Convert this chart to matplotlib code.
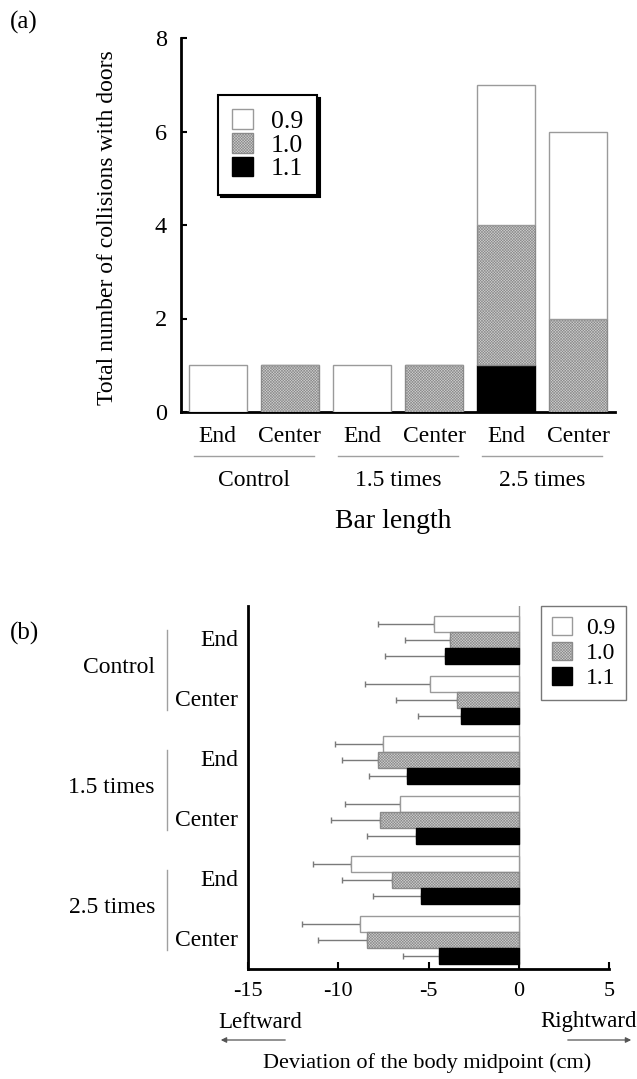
import numpy as np
import matplotlib
matplotlib.use("Agg")
import matplotlib.pyplot as plt
from matplotlib.patches import Patch
import matplotlib.transforms as mtransforms

plt.rcParams['font.family'] = ['Liberation Serif', 'DejaVu Serif']
plt.rcParams['hatch.linewidth'] = 0.4

# ---------------- data ----------------
conditions = ["Control", "1.5 times", "2.5 times"]
positions = ["End", "Center"]
series = ["0.9", "1.0", "1.1"]

# Panel (a): number of collisions (stacked: 1.1 bottom, 1.0, 0.9 top)
a_09 = [1, 0, 1, 0, 3, 4]
a_10 = [0, 1, 0, 1, 3, 2]
a_11 = [0, 0, 0, 0, 1, 0]

# Panel (b): deviation of body midpoint (cm), mean and SD
b_09 = [-4.7, -4.9, -7.5, -6.6, -9.3, -8.8]
b_09_err = [3.1, 3.6, 2.7, 3.0, 2.1, 3.2]
b_10 = [-3.8, -3.4, -7.8, -7.7, -7.0, -8.4]
b_10_err = [2.5, 3.4, 2.0, 2.7, 2.8, 2.7]
b_11 = [-4.1, -3.2, -6.2, -5.7, -5.4, -4.4]
b_11_err = [3.3, 2.4, 2.1, 2.7, 2.7, 2.0]

# ---------------- styles ----------------
W, H = 637, 1079
DPI = 100
fig = plt.figure(figsize=(W / DPI, H / DPI), dpi=DPI)

EDGE = '#9a9a9a'
HATCH_FACE = '#cfcfcf'
styles = {
    "0.9": dict(facecolor='white', edgecolor=EDGE, hatch=None),
    "1.0": dict(facecolor=HATCH_FACE, edgecolor='#8a8a8a', hatch='xxxxxxxxxxxx'),
    "1.1": dict(facecolor='black', edgecolor='black', hatch=None),
}
FS = 17


def fx(px):
    return px / W


def fy(py):
    return 1 - py / H


# ================= Panel (a) =================
axa = fig.add_axes([fx(181), fy(412), fx(615) - fx(181), fy(38) - fy(412)])
x = np.arange(6)
bw = 0.8
bot = np.zeros(6)
for key, vals in (("1.1", a_11), ("1.0", a_10), ("0.9", a_09)):
    st = styles[key]
    v = np.array(vals, dtype=float)
    axa.bar(x, v, bw, bottom=bot, facecolor=st['facecolor'], edgecolor=st['edgecolor'],
            hatch=st['hatch'], linewidth=1.0, zorder=3)
    bot = bot + v

axa.set_xlim(-0.51, 5.51)
axa.set_ylim(0, 8)
axa.set_yticks([0, 2, 4, 6, 8])
axa.set_xticks([])
for s in ('top', 'right'):
    axa.spines[s].set_visible(False)
for s in ('left', 'bottom'):
    axa.spines[s].set_linewidth(2.0)
axa.tick_params(axis='y', direction='in', length=4, width=1.5, pad=10, labelsize=17.5)

trans_a = mtransforms.blended_transform_factory(axa.transData, axa.transAxes)
ah = 412 - 38
for i in range(6):
    axa.text(x[i], -25 / ah, positions[i % 2], transform=trans_a, ha='center', va='center',
             fontsize=FS)
for g, cond in enumerate(conditions):
    x0 = x[2 * g] - 0.33
    x1 = x[2 * g + 1] + 0.33
    axa.plot([x0, x1], [-44 / ah, -44 / ah], transform=trans_a, color='#a0a0a0',
             lw=1.0, clip_on=False)
    axa.text((x[2 * g] + x[2 * g + 1]) / 2, -68 / ah, cond, transform=trans_a,
             ha='center', va='center', fontsize=FS)
axa.text(0.49, -110 / ah, "Bar length", transform=axa.transAxes, ha='center', va='center',
         fontsize=20)
fig.text(fx(108), fy(228), "Total number of collisions with doors", rotation=90,
         ha='center', va='center', fontsize=17)

handles = [Patch(facecolor=styles[k]['facecolor'], edgecolor=styles[k]['edgecolor'],
                 hatch=styles[k]['hatch'], linewidth=1.0) for k in series]
lega = axa.legend(handles, series, loc='upper left', bbox_to_anchor=((218 - 181) / 434, (412 - 95) / 374),
                  frameon=True, fancybox=False, shadow={'color': 'black', 'alpha': 1.0},
                  fontsize=18.5, handlelength=0.8, handleheight=0.8, labelspacing=0.0,
                  handletextpad=0.7, borderpad=0.55, borderaxespad=0)
lega.get_frame().set_edgecolor('black')
lega.get_frame().set_linewidth(1.5)

fig.text(fx(10), fy(22), "(a)", ha='left', va='center', fontsize=18)

# ================= Panel (b) =================
axb = fig.add_axes([fx(248), fy(969), fx(609) - fx(248), fy(606) - fy(969)])
yg = np.arange(6)
bh = 0.267
offs = {"0.9": -bh, "1.0": 0.0, "1.1": bh}
errs = {"0.9": b_09_err, "1.0": b_10_err, "1.1": b_11_err}
vals_b = {"0.9": b_09, "1.0": b_10, "1.1": b_11}
for key in series:
    st = styles[key]
    yy = yg + offs[key]
    v = np.array(vals_b[key])
    e = np.array(errs[key])
    axb.barh(yy, v, bh, facecolor=st['facecolor'], edgecolor=st['edgecolor'],
             hatch=st['hatch'], linewidth=1.0, zorder=3)
    axb.errorbar(v, yy, xerr=[e, np.zeros_like(e)], fmt='none', ecolor='#7a7a7a',
                 elinewidth=1.0, capsize=2.5, capthick=1.0, zorder=2)
axb.axvline(0, color='#9a9a9a', lw=1.0, zorder=1)
axb.set_xlim(-15, 5)
axb.set_ylim(5.483, -0.567)
axb.set_xticks([-15, -10, -5, 0, 5])
axb.set_xticklabels(['-15', '-10', '-5', '0', '5'])
axb.set_yticks([])
for s in ('top', 'right'):
    axb.spines[s].set_visible(False)
for s in ('left', 'bottom'):
    axb.spines[s].set_linewidth(2.0)
axb.tick_params(axis='x', direction='in', length=5, width=1.5, pad=9, labelsize=16)

bw_px = 609 - 248
bh_px = 969 - 606
trans_b = mtransforms.blended_transform_factory(axb.transAxes, axb.transData)
for i in range(6):
    axb.text((238 - 248) / bw_px, yg[i], positions[i % 2], transform=trans_b, ha='right',
             va='center', fontsize=FS)
for g, cond in enumerate(conditions):
    yc = (yg[2 * g] + yg[2 * g + 1]) / 2
    axb.plot([(167 - 248) / bw_px] * 2, [yc - 0.67, yc + 0.67], transform=trans_b,
             color='#a0a0a0', lw=1.0, clip_on=False)
    axb.text((155 - 248) / bw_px, yc - 0.05, cond, transform=trans_b, ha='right', va='center',
             fontsize=FS)

axb.text((218 - 248) / bw_px, (969 - 1022) / bh_px, "Leftward", transform=axb.transAxes,
         ha='left', va='center', fontsize=16.5)
axb.text((637 - 248) / bw_px, (969 - 1022) / bh_px, "Rightward", transform=axb.transAxes,
         ha='right', va='center', fontsize=16.5)
ya = (969 - 1040) / bh_px
axb.annotate("", xy=((218 - 248) / bw_px, ya), xytext=((288 - 248) / bw_px, ya),
             xycoords='axes fraction', textcoords='axes fraction', annotation_clip=False,
             arrowprops=dict(arrowstyle='-|>', color='#555555', lw=0.9, mutation_scale=8))
axb.annotate("", xy=((634 - 248) / bw_px, ya), xytext=((565 - 248) / bw_px, ya),
             xycoords='axes fraction', textcoords='axes fraction', annotation_clip=False,
             arrowprops=dict(arrowstyle='-|>', color='#555555', lw=0.9, mutation_scale=8))
axb.text((427 - 248) / bw_px, (969 - 1063) / bh_px, "Deviation of the body midpoint (cm)",
         transform=axb.transAxes, ha='center', va='center', fontsize=16)

legb = axb.legend(handles, series, loc='upper right',
                  bbox_to_anchor=((626 - 248) / bw_px, 1.0),
                  frameon=True, fancybox=False, fontsize=17, handlelength=0.85,
                  handleheight=0.85, labelspacing=0.1, handletextpad=0.6, borderpad=0.45,
                  borderaxespad=0)
legb.get_frame().set_edgecolor('#555555')
legb.get_frame().set_linewidth(1.0)

fig.text(fx(10), fy(633), "(b)", ha='left', va='center', fontsize=18)

fig.savefig("out.png", dpi=DPI)
